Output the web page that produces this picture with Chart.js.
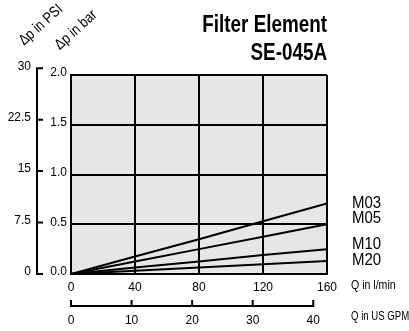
<!DOCTYPE html>
<html>
<head>
<meta charset="utf-8">
<script src="https://cdn.jsdelivr.net/npm/chart.js@4.4.0/dist/chart.umd.min.js"></script>
<style>
  html, body { margin: 0; padding: 0; background: #fff; }
</style>
</head>
<body>
<canvas id="grafik" width="409" height="331"></canvas>
<script>
// data
const flowLpm = [0, 40, 80, 120, 160];
const seriesNames = ['M03', 'M05', 'M10', 'M20'];
const dpM03 = [0, 0.175, 0.35, 0.53, 0.71];
const dpM05 = [0, 0.125, 0.25, 0.375, 0.5];
const dpM10 = [0, 0.065, 0.125, 0.19, 0.25];
const dpM20 = [0, 0.033, 0.065, 0.098, 0.13];
const barTicks = [0, 0.5, 1.0, 1.5, 2.0];
const psiTicks = [0, 7.5, 15, 22.5, 30];
const lpmTicks = [0, 40, 80, 120, 160];
const gpmTicks = [0, 10, 20, 30, 40];

const PSI_PER_BAR = 14.5038;
const LPM_PER_GPM = 3.78541;
const FONT = "'Liberation Sans', Arial, sans-serif";

const allSeries = [dpM03, dpM05, dpM10, dpM20];
// small vertical nudges so the series names don't collide
const nameNudge = [0, -6, -5, -1];

// squeeze text horizontally to imitate the condensed typeface
function narrowText(ctx, text, x, y, sx) {
  ctx.save();
  ctx.translate(x, y);
  ctx.scale(sx, 1);
  ctx.fillText(text, 0, 0);
  ctx.restore();
}

const decor = {
  id: 'decor',
  beforeDraw(chart) {
    const { ctx, chartArea: a } = chart;
    ctx.save();
    ctx.fillStyle = '#e6e6e6';
    ctx.fillRect(a.left, a.top, a.right - a.left, a.bottom - a.top);
    ctx.restore();
  },
  afterDraw(chart) {
    const ctx = chart.ctx;
    const { psi, gpm, x, y } = chart.scales;
    const a = chart.chartArea;
    ctx.save();
    ctx.strokeStyle = '#000';
    ctx.fillStyle = '#000';
    ctx.lineWidth = 2;

    // PSI bracket scale
    const bx = psi.right - 7;
    ctx.beginPath();
    ctx.moveTo(bx, psi.getPixelForValue(psiTicks[psiTicks.length - 1]));
    ctx.lineTo(bx, psi.getPixelForValue(0));
    psiTicks.forEach(v => {
      const py = psi.getPixelForValue(v);
      ctx.moveTo(bx - 1, py);
      ctx.lineTo(bx + 6, py);
    });
    ctx.stroke();

    // US GPM ruler
    const ly = gpm.top + 10;
    ctx.beginPath();
    ctx.moveTo(gpm.getPixelForValue(0), ly);
    ctx.lineTo(gpm.getPixelForValue(gpmTicks[gpmTicks.length - 1]) + 1, ly);
    gpmTicks.forEach(v => {
      const px = gpm.getPixelForValue(v);
      ctx.moveTo(px, ly + 1);
      ctx.lineTo(px, ly - 6);
    });
    ctx.stroke();

    // title
    ctx.textAlign = 'right';
    ctx.textBaseline = 'alphabetic';
    ctx.font = 'bold 23px ' + FONT;
    narrowText(ctx, 'Filter Element', a.right, 32, 0.82);
    narrowText(ctx, 'SE-045A', a.right, 60, 0.82);

    // rotated axis titles
    ctx.font = '15px ' + FONT;
    ctx.textAlign = 'center';
    ctx.textBaseline = 'middle';
    [['\u0394p in PSI', 41, 25], ['\u0394p in bar', 76, 30]].forEach(([t, cx, cy]) => {
      ctx.save();
      ctx.translate(cx, cy);
      ctx.rotate(-42 * Math.PI / 180);
      narrowText(ctx, t, 0, 0, 0.85);
      ctx.restore();
    });

    // series names at the right end of each line
    ctx.textAlign = 'left';
    ctx.font = '17px ' + FONT;
    allSeries.forEach((s, i) => {
      const py = y.getPixelForValue(s[s.length - 1]) + nameNudge[i];
      narrowText(ctx, seriesNames[i], a.right + 25, py, 0.88);
    });

    // unit captions
    ctx.font = '12px ' + FONT;
    narrowText(ctx, 'Q in l/min', a.right + 24, x.top + 12, 0.88);
    narrowText(ctx, 'Q in US GPM', a.right + 24, gpm.top + 21, 0.8);
    ctx.restore();
  }
};

const ctx = document.getElementById('grafik').getContext('2d');
const tickFont = { family: FONT, size: 12 };

new Chart(ctx, {
  type: 'line',
  data: {
    datasets: allSeries.map((s, i) => ({
      label: seriesNames[i],
      data: flowLpm.map((q, j) => ({ x: q, y: s[j] })),
      borderColor: '#000',
      borderWidth: 2,
      pointRadius: 0,
      tension: 0,
      fill: false
    }))
  },
  options: {
    responsive: false,
    animation: false,
    layout: { padding: { left: 0, right: 82, top: 75, bottom: 0 } },
    plugins: {
      legend: { display: false },
      tooltip: { enabled: false }
    },
    scales: {
      x: {
        type: 'linear',
        position: 'bottom',
        weight: 0,
        min: 0,
        max: 160,
        afterBuildTicks: s => { s.ticks = lpmTicks.map(v => ({ value: v })); },
        afterFit: s => { s.height = 22; },
        grid: { color: '#000', lineWidth: 2, drawTicks: false },
        border: { color: '#000', width: 2 },
        ticks: { color: '#000', font: tickFont, padding: 6, maxRotation: 0, callback: v => String(v) }
      },
      gpm: {
        type: 'linear',
        position: 'bottom',
        weight: 1,
        min: 0,
        max: 160 / LPM_PER_GPM,
        afterBuildTicks: s => { s.ticks = gpmTicks.map(v => ({ value: v })); },
        afterFit: s => { s.height = 35; },
        grid: { display: false, drawTicks: false },
        border: { display: false },
        ticks: { color: '#000', font: tickFont, padding: 17, maxRotation: 0, callback: v => String(v) }
      },
      y: {
        type: 'linear',
        position: 'left',
        weight: 0,
        min: 0,
        max: 2,
        afterBuildTicks: s => { s.ticks = barTicks.map(v => ({ value: v })); },
        afterFit: s => { s.width = 27; },
        grid: { color: '#000', lineWidth: 2, drawTicks: false },
        border: { color: '#000', width: 2 },
        ticks: { color: '#000', font: tickFont, padding: 4, labelOffset: -2, callback: v => v.toFixed(1) }
      },
      psi: {
        type: 'linear',
        position: 'left',
        weight: 1,
        min: 0,
        max: 2 * PSI_PER_BAR,
        afterBuildTicks: s => { s.ticks = psiTicks.map(v => ({ value: v })); },
        afterFit: s => { s.width = 44; },
        grid: { display: false, drawTicks: false },
        border: { display: false },
        ticks: { color: '#000', font: tickFont, padding: 13, labelOffset: -2, autoSkip: false, callback: v => String(v) }
      }
    }
  },
  plugins: [decor]
});
</script>
</body>
</html>
